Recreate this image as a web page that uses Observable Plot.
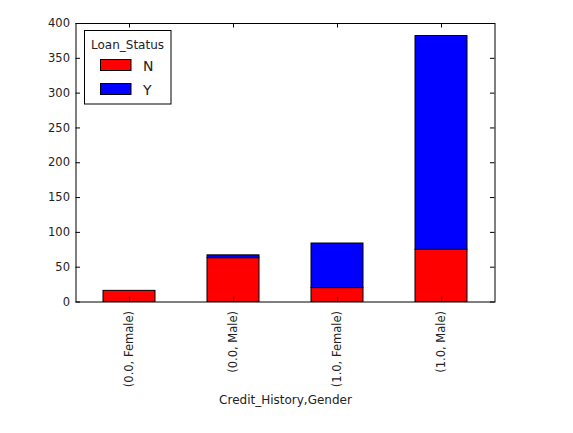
<!DOCTYPE html>
<html><head><meta charset="utf-8">
<script src="https://cdn.jsdelivr.net/npm/d3@7"></script>
<script src="https://cdn.jsdelivr.net/npm/@observablehq/plot@0.6"></script>
<style>
body{margin:0;background:#fff;}
#wrap{position:relative;width:573px;height:433px;}
#legend{position:absolute;left:0;top:0;pointer-events:none;}
</style></head><body><div id="wrap"></div>
<script>
const categories = ["(0.0, Female)", "(0.0, Male)", "(1.0, Female)", "(1.0, Male)"];
const statuses = ["N", "Y"];
const colors = ["#ff0000", "#0000ff"];
const valuesN = [16, 63, 20, 75];
const valuesY = [0, 4, 64, 307];
const yTicks = [0, 50, 100, 150, 200, 250, 300, 350, 400];
const xLabel = "Credit_History,Gender";
const legendTitle = "Loan_Status";

const data = [];
statuses.forEach((s, si) => categories.forEach((c, ci) =>
  data.push({cat: c, status: s, value: (si === 0 ? valuesN : valuesY)[ci]})));

const W = 573, H = 433, mL = 75.5, mR = 78.5, mT = 23, mB = 131.5;
const pw = W - mL - mR, ph = H - mT - mB;
const font = "DejaVu Sans";

const plot = Plot.plot({
  width: W, height: H, marginLeft: mL, marginRight: mR, marginTop: mT, marginBottom: mB,
  style: {fontFamily: font, fontSize: "11.5px", color: "#000", background: "#fff"},
  x: {domain: categories, paddingInner: 0.5, paddingOuter: 0.25, label: null},
  y: {domain: [0, 400], label: null},
  color: {domain: statuses, range: colors},
  marks: [
    Plot.barY(data, {x: "cat", y: "value", fill: "status", stroke: "black", strokeWidth: 1}),
    Plot.frame({stroke: "black"}),
    Plot.axisY({ticks: yTicks, tickSize: 0, tickPadding: 6, label: null, fill: "#222"}),
    Plot.ruleY(yTicks, {y: d => d, insetRight: pw - 4.5, stroke: "black"}),
    Plot.ruleY(yTicks, {y: d => d, insetLeft: pw - 4.5, stroke: "black"}),
    Plot.ruleX(categories, {x: d => d, insetTop: ph - 4.5, stroke: "black"}),
    Plot.ruleX(categories, {x: d => d, insetBottom: ph - 4.5, stroke: "black"}),
    Plot.axisX({tickSize: 0, tickPadding: 9, tickRotate: -90, label: null, fill: "#222"}),
    Plot.text([xLabel], {frameAnchor: "bottom", dy: 102, text: d => d, fontSize: 12, fill: "#222"})
  ]
});
const wrap = document.getElementById("wrap");
wrap.appendChild(plot);

const lg = d3.select(wrap).append("svg").attr("id", "legend")
  .attr("width", W).attr("height", H).style("font-family", font);
lg.append("rect").attr("x", 84.5).attr("y", 30.5).attr("width", 86.5).attr("height", 73.5)
  .attr("fill", "#fff").attr("stroke", "#000");
lg.append("text").attr("x", 127.5).attr("y", 49).attr("text-anchor", "middle")
  .attr("font-size", 12).attr("fill", "#222").text(legendTitle);
statuses.forEach((s, i) => {
  const y0 = 59.5 + i * 24;
  lg.append("rect").attr("x", 100.5).attr("y", y0).attr("width", 30.5).attr("height", 11)
    .attr("fill", colors[i]).attr("stroke", "#000");
  lg.append("text").attr("x", 143).attr("y", y0 + 11).attr("font-size", 14)
    .attr("fill", "#222").text(s);
});
</script></body></html>
